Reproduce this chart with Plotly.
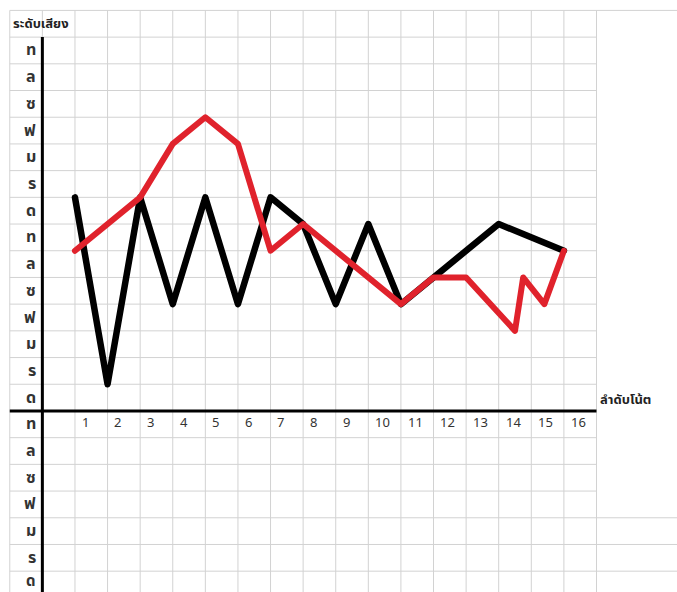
import plotly.graph_objects as go

# ---- data ----
note_order = list(range(1, 17))
black_pitch = [8, 1, 8, 4, 8, 4, 8, 7, 4, 7, 4, 5, 6, 7, None, 6]
red_x = [1, 3, 4, 5, 6, 7, 8, 11, 12, 13, 14.5, 14.75, 15.4, 16]
red_pitch = [6, 8, 10, 11, 10, 6, 7, 4, 5, 5, 3, 5, 4, 6]
pitch_labels_up = ["ด", "ร", "ม", "ฟ", "ซ", "ล", "ท", "ด", "ร", "ม", "ฟ", "ซ", "ล", "ท"]
pitch_labels_down = ["ท", "ล", "ซ", "ฟ", "ม", "ร", "ด"]
x_tick_labels = [str(i) for i in note_order]
y_title = "ระดับเสียง"
x_title = "ลำดับโน้ต"

XMIN, XMAX = -1.30, 19.47
YMIN, YMAX = -6.78, 15.39
THAI = "Tahoma, 'Noto Sans Thai', 'Noto Sans', 'DejaVu Sans', sans-serif"

fig = go.Figure()
shapes = []
grid = dict(color="#d2d2d2", width=1)
# vertical grid lines
for n in range(-1, 18):
    shapes.append(dict(type="line", x0=n, x1=n, y0=YMIN, y1=15, line=grid, layer="below"))
# horizontal grid lines
for k in range(-6, 15):
    x1 = XMAX if k in (-4, -5, -6) else 17
    shapes.append(dict(type="line", x0=-1, x1=x1, y0=k, y1=k, line=grid, layer="below"))
shapes.append(dict(type="line", x0=-1, x1=XMAX, y0=15, y1=15, line=grid, layer="below"))
# axes
shapes.append(dict(type="line", x0=0, x1=0, y0=YMIN, y1=14, line=dict(color="black", width=3), layer="below"))
shapes.append(dict(type="line", x0=-1, x1=17, y0=0, y1=0, line=dict(color="black", width=3), layer="below"))

fig.add_trace(go.Scatter(x=note_order, y=black_pitch, mode="lines", connectgaps=True,
                         line=dict(color="black", width=6.5), hoverinfo="skip"))
fig.add_trace(go.Scatter(x=red_x, y=red_pitch, mode="lines",
                         line=dict(color="#e0222c", width=6), hoverinfo="skip"))

ann = []
for i, lab in enumerate(pitch_labels_up):
    ann.append(dict(x=-0.12, y=i + 0.5, text="<b>" + lab + "</b>", xanchor="right", yanchor="middle",
                    showarrow=False, font=dict(family=THAI, size=16, color="#333333")))
n_down = len(pitch_labels_down)
for i, lab in enumerate(pitch_labels_down):
    yy = -i - 0.5 if i < n_down - 1 else -i - 0.38
    ann.append(dict(x=-0.12, y=yy, text="<b>" + lab + "</b>", xanchor="right", yanchor="middle",
                    showarrow=False, font=dict(family=THAI, size=16 if i < n_down - 1 else 15, color="#333333")))
for n, lab in zip(note_order, x_tick_labels):
    ann.append(dict(x=n + 0.15, y=-0.45, text=lab, xanchor="left", yanchor="middle",
                    showarrow=False, font=dict(family=THAI, size=13, color="#333333")))
ann.append(dict(x=-0.95, y=14.5, text="<b>" + y_title + "</b>", xanchor="left", yanchor="middle",
                showarrow=False, font=dict(family=THAI, size=13, color="#222222")))
ann.append(dict(x=17.05, y=0.4, text="<b>" + x_title + "</b>", xanchor="left", yanchor="middle",
                showarrow=False, font=dict(family=THAI, size=13, color="#222222")))

fig.update_layout(
    width=677, height=592, margin=dict(l=0, r=0, t=0, b=0),
    paper_bgcolor="white", plot_bgcolor="white", showlegend=False,
    xaxis=dict(range=[XMIN, XMAX], visible=False, fixedrange=True),
    yaxis=dict(range=[YMIN, YMAX], visible=False, fixedrange=True),
    shapes=shapes, annotations=ann,
)
fig.write_html("out.html", config={"displayModeBar": False},
               post_script="document.body.style.margin='0';document.body.style.padding='0';"
                           "document.querySelectorAll('.scatterlayer path.js-line').forEach(function(p){p.style.strokeLinejoin='round';p.style.strokeLinecap='round';});")
